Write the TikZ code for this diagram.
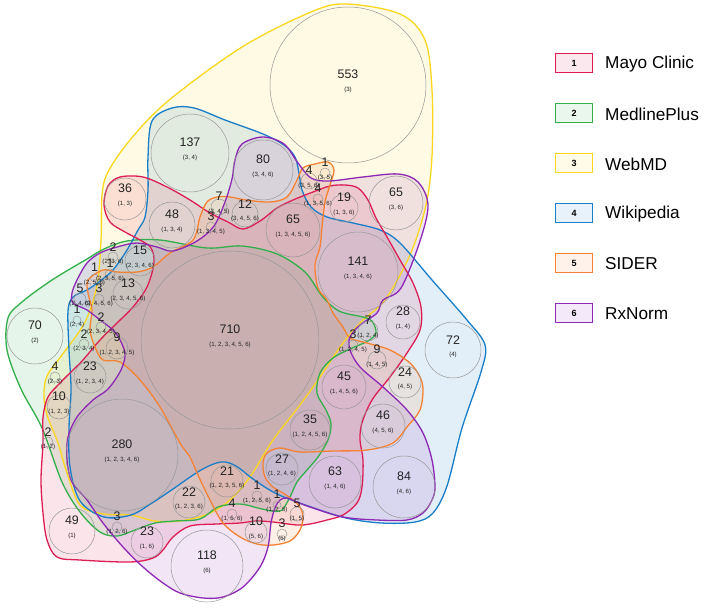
\documentclass[tikz,border=0pt]{standalone}
\usepackage{fontspec}
\setmainfont{Liberation Sans}
\definecolor{cMayo}{RGB}{220,30,85}
\definecolor{cMed}{RGB}{50,175,75}
\definecolor{cWeb}{RGB}{250,215,30}
\definecolor{cWiki}{RGB}{25,125,200}
\definecolor{cSider}{RGB}{245,130,50}
\definecolor{cRx}{RGB}{140,40,180}
\definecolor{ctxt}{RGB}{35,35,35}
\tikzset{
  region/.style={line width=1.3pt},
  vcirc/.style={circle, draw={rgb,255:red,150;green,150;blue,150}, line width=0.5pt, inner sep=0pt},
  numtxt/.style={inner sep=0pt, text=ctxt, font=\fontsize{12.4}{13}\selectfont},
  labtxt/.style={inner sep=0pt, text=ctxt, font=\fontsize{6.1}{7}\selectfont},
  legbox/.style={rectangle, line width=1pt, minimum width=37pt, minimum height=19pt, inner sep=0pt, font=\fontsize{9}{10}\selectfont\bfseries},
  legtxt/.style={anchor=west, inner sep=0pt, text=black, font=\fontsize{17.2}{18}\selectfont}
}
\newcommand\vc[6]{%
  \node[vcirc, minimum size=2*#4pt] (#1) at (#2,#3) {};
  \node[numtxt] (#1n) at (#2,{#3-10.3}) {#5};
  \node[labtxt] (#1l) at (#2,{#3+4.5}) {#6};
}
\begin{document}
\begin{tikzpicture}[x=1pt,y=-1pt]
\useasboundingbox (0,0) rectangle (708,607);
% ---- region outlines ----
\path[save path=\pY] plot[smooth cycle, tension=0.55] coordinates {(346,4) (400,14) (425,40) (432,90) (432,156) (426,205) (410,255) (385,300) (363,320) (343,343) (320,377) (300,405) (273,440) (250,477) (230,500) (208,514) (180,521) (155,521) (130,515) (104,514) (80,505) (66,470) (58,443) (47,415) (44,395) (47,376) (62,355) (85,322) (97,285) (101,240) (102,195) (108,172) (130,140) (168,101) (242,47) (311,12)};
\path[save path=\pG] plot[smooth cycle, tension=0.55] coordinates {(127,241) (160,240) (207,248) (242,246) (277,254) (305,272) (322,296) (339,311) (363,317) (372,321) (376,333) (368,341) (350,349) (333,358) (320,373) (317,393) (326,410) (331,424) (328,440) (318,457) (307,470) (297,482) (290,497) (282,510) (272,511) (258,508) (240,504) (218,507) (200,519) (175,521) (155,523) (135,530) (117,536) (100,532) (80,512) (62,482) (42,428) (21,389) (7,350) (8,318) (22,302) (52,280) (87,259) (104,249)};
\path[save path=\pB] plot[smooth cycle, tension=0.55] coordinates {(152,121) (172,108) (194,108) (225,120) (263,134) (284,145) (295,157) (299,173) (302,190) (311,207) (327,217) (353,223) (380,230) (400,243) (432,280) (467,320) (485,345) (481,372) (462,428) (447,486) (433,513) (415,522) (381,523) (346,518) (311,507) (277,494) (253,479) (236,466) (221,462) (201,470) (173,489) (152,503) (131,515) (104,517) (80,501) (70,467) (69,428) (71,389) (69,350) (68,311) (73,297) (87,290) (100,281) (113,270) (127,250) (138,230) (145,217) (148,190) (148,157)};
\path[save path=\pR] plot[smooth cycle, tension=0.55] coordinates {(120,177) (143,177) (167,187) (190,200) (210,213) (228,222) (243,229) (260,221) (277,208) (293,200) (313,192) (330,186) (345,185) (358,188) (368,200) (376,218) (387,237) (400,260) (413,283) (421,307) (420,330) (407,353) (390,377) (372,400) (362,423) (360,440) (363,460) (362,487) (357,503) (343,515) (327,520) (310,524) (297,525) (273,522) (256,521) (240,523) (217,524) (190,526) (173,537) (163,550) (153,558) (130,562) (80,560) (57,557) (47,540) (43,513) (41,480) (43,443) (43,417) (48,397) (60,383) (73,370) (83,360) (100,340) (117,323) (133,307) (147,287) (154,263) (151,248) (140,240) (125,232) (110,222) (104,205) (108,186)};
\path[save path=\pO] plot[smooth cycle, tension=0.55] coordinates {(88,280) (103,270) (117,272) (137,272) (153,267) (170,253) (193,240) (200,217) (207,202) (217,197) (230,197) (246,200) (270,202) (287,197) (297,180) (303,168) (315,164) (328,162) (334,170) (330,185) (325,202) (322,227) (320,247) (315,265) (318,288) (327,300) (333,313) (343,327) (350,338) (367,343) (390,350) (410,363) (420,377) (423,390) (420,410) (407,427) (393,443) (367,450) (333,451) (300,452) (280,448) (267,453) (263,463) (265,477) (273,487) (283,493) (293,500) (300,507) (303,517) (300,530) (290,541) (273,545) (257,544) (240,537) (223,523) (210,500) (197,473) (190,457) (180,443) (160,407) (140,380) (120,362) (103,360) (95,347) (90,330) (92,310) (88,293)};
\path[save path=\pP] plot[smooth cycle, tension=0.55] coordinates {(242,144) (263,137) (284,144) (298,163) (311,178) (329,181) (363,177) (398,174) (418,182) (428,205) (420,241) (401,288) (383,300) (377,313) (360,325) (350,337) (350,350) (360,367) (383,387) (407,410) (423,433) (432,460) (435,487) (432,500) (423,513) (407,520) (377,520) (343,517) (310,507) (297,502) (287,498) (280,500) (275,508) (271,523) (268,547) (260,567) (243,587) (223,597) (203,598) (180,593) (163,583) (143,567) (123,547) (103,523) (87,500) (72,482) (67,460) (68,437) (77,417) (93,400) (107,390) (117,377) (123,365) (125,353) (120,340) (113,330) (100,320) (87,310) (73,303) (72,293) (77,280) (87,263) (100,253) (117,247) (137,243) (157,247) (173,251) (197,241) (214,226) (225,202) (232,179) (235,160)};
% fills
\fill[cWeb, fill opacity=0.12, use path=\pY];
\fill[cMed, fill opacity=0.12, use path=\pG];
\fill[cWiki, fill opacity=0.12, use path=\pB];
\fill[cMayo, fill opacity=0.12, use path=\pR];
\fill[cSider, fill opacity=0.12, use path=\pO];
\fill[cRx, fill opacity=0.12, use path=\pP];
% strokes
\draw[region, cWeb, use path=\pY];
\draw[region, cMed, use path=\pG];
\draw[region, cWiki, use path=\pB];
\draw[region, cMayo, use path=\pR];
\draw[region, cSider, use path=\pO];
\draw[region, cRx, use path=\pP];
% ---- circles ----
\vc{c553}{348}{85}{78}{553}{(3)}
\vc{c137}{190}{153}{39}{137}{(3, 4)}
\vc{c80}{263}{170}{30}{80}{(3, 4, 6)}
\vc{c36}{125}{199}{21}{36}{(1, 3)}
\vc{c48}{172}{225}{23}{48}{(1, 3, 4)}
\vc{c7a}{219}{207}{8}{7}{(3, 4, 5)}
\vc{c3a}{211}{227}{5}{3}{(1, 3, 4, 5)}
\vc{c12}{245}{214}{13}{12}{(3, 4, 5, 6)}
\vc{c4a}{309}{181}{8}{4}{(3, 5, 6)}
\vc{c1a}{325}{173}{5}{1}{(3, 5)}
\vc{c4b}{318}{199}{5}{4}{(1, 3, 5, 6)}
\vc{c19}{344}{208}{14}{19}{(1, 3, 6)}
\vc{c65a}{396}{203}{27}{65}{(3, 6)}
\vc{c65b}{293}{230}{27}{65}{(1, 3, 4, 5, 6)}
\vc{c141}{358}{272}{40}{141}{(1, 3, 4, 6)}
\vc{c2a}{113}{257}{5}{2}{(2, 3, 6)}
\vc{c15}{140}{261}{15}{15}{(2, 3, 4, 6)}
\vc{c1b}{94.5}{278}{4}{1}{(2, 5, 6)}
\vc{c1c}{110}{274}{5}{1}{(2, 3, 5, 6)}
\vc{c5a}{80}{299}{6}{5}{(2, 4, 6)}
\vc{c3b}{99}{299}{5}{3}{(2, 4, 5, 6)}
\vc{c13}{128}{294}{15}{13}{(2, 3, 4, 5, 6)}
\vc{c1d}{77}{320}{4}{1}{(2, 4)}
\vc{c2b}{101}{327}{5}{2}{(2, 3, 4, 5)}
\vc{c2c}{84}{344}{5}{2}{(2, 3, 4)}
\vc{c9a}{117}{348}{11}{9}{(1, 2, 3, 4, 5)}
\vc{c70}{35}{336}{28}{70}{(2)}
\vc{c23a}{90}{377}{16}{23}{(1, 2, 3, 4)}
\vc{c4c}{55}{377}{5}{4}{(2, 3)}
\vc{c10a}{59}{407}{12}{10}{(1, 2, 3)}
\vc{c2d}{48}{442}{5}{2}{(1, 2)}
\vc{c280}{122}{455}{56}{280}{(1, 2, 3, 4, 6)}
\vc{c710}{230}{340}{89}{710}{(1, 2, 3, 4, 5, 6)}
\vc{c28}{403}{322}{17}{28}{(1, 4)}
\vc{c72}{453}{350}{28}{72}{(4)}
\vc{c7b}{368}{331}{10}{7}{(1, 2, 4)}
\vc{c3c}{353}{345}{5}{3}{(1, 2, 4, 5)}
\vc{c9b}{377}{360}{9}{9}{(1, 4, 5)}
\vc{c24}{405}{382}{16}{24}{(4, 5)}
\vc{c45}{344}{387}{22}{45}{(1, 4, 5, 6)}
\vc{c46}{383}{426}{22}{46}{(4, 5, 6)}
\vc{c35}{310}{430}{20}{35}{(1, 2, 4, 5, 6)}
\vc{c84}{404}{487}{31}{84}{(4, 6)}
\vc{c63}{335}{482}{26}{63}{(1, 4, 6)}
\vc{c27}{282}{469}{16}{27}{(1, 2, 4, 6)}
\vc{c1e}{277}{505}{4}{1}{(1, 2, 5)}
\vc{c5b}{297}{514}{7}{5}{(1, 5)}
\vc{c3d}{282}{534}{5}{3}{(5)}
\vc{c1f}{257}{496}{5}{1}{(1, 2, 5, 6)}
\vc{c21}{227}{481}{16}{21}{(1, 2, 3, 5, 6)}
\vc{c4d}{232}{514}{5}{4}{(1, 5, 6)}
\vc{c10b}{256}{532}{11}{10}{(5, 6)}
\vc{c22}{189}{502}{16}{22}{(1, 2, 3, 6)}
\vc{c3e}{117}{527}{5}{3}{(1, 2, 6)}
\vc{c23b}{147}{542}{16}{23}{(1, 6)}
\vc{c49}{72}{531}{23}{49}{(1)}
\vc{c118}{207}{566}{36}{118}{(6)}
% ---- legend ----
\node[legbox, draw=cMayo, fill=cMayo!10] (leg1) at (574,63) {1};
\node[legbox, draw=cMed, fill=cMed!10] (leg2) at (574,113) {2};
\node[legbox, draw=cWeb, fill=cWeb!10] (leg3) at (574,163) {3};
\node[legbox, draw=cWiki, fill=cWiki!10] (leg4) at (574,213) {4};
\node[legbox, draw=cSider, fill=cSider!10] (leg5) at (574,263) {5};
\node[legbox, draw=cRx, fill=cRx!10] (leg6) at (574,313) {6};
\node[legtxt] (t1) at (605,64) {Mayo Clinic};
\node[legtxt] (t2) at (605,114) {MedlinePlus};
\node[legtxt] (t3) at (605,164) {WebMD};
\node[legtxt] (t4) at (605,214) {Wikipedia};
\node[legtxt] (t5) at (605,264) {SIDER};
\node[legtxt] (t6) at (605,314) {RxNorm};
\end{tikzpicture}
\end{document}
